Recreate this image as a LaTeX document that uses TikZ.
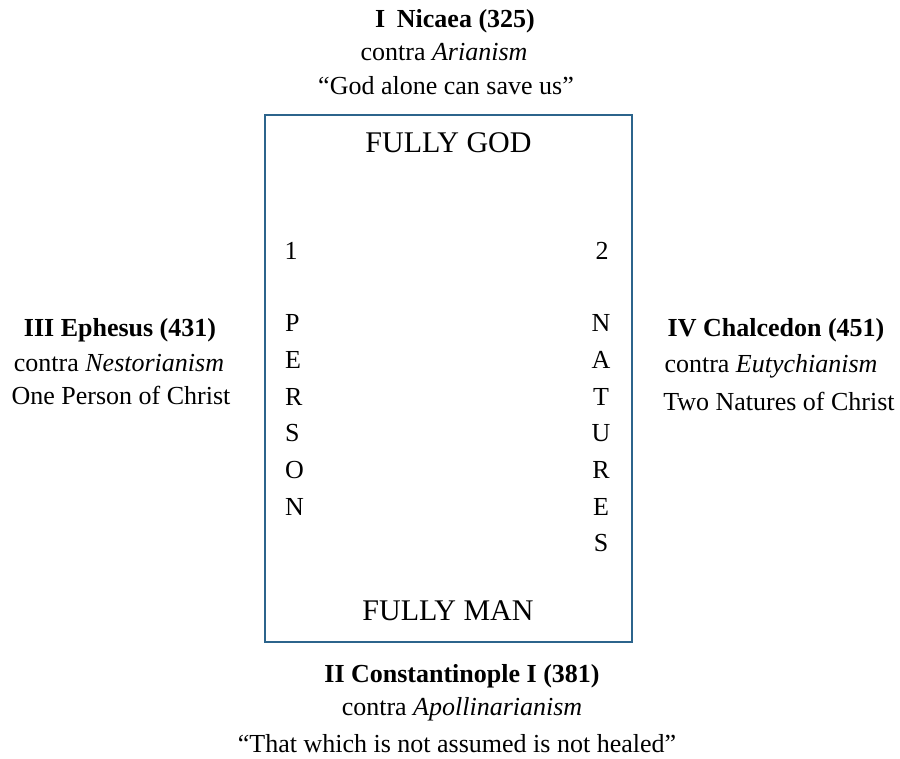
\documentclass[tikz,border=0pt]{standalone}
\usepackage{fontspec}
\setmainfont{Liberation Serif}
\definecolor{boxblue}{RGB}{44,100,140}
\tikzset{
  txt/.style={inner sep=0pt, anchor=base, font=\fontsize{26}{30}\selectfont},
  big/.style={inner sep=0pt, anchor=base, font=\fontsize{30}{34}\selectfont},
  letter/.style={inner sep=0pt, font=\fontsize{26}{30}\selectfont},
  frame/.style={draw=boxblue, line width=2pt}
}
\begin{document}
\begin{tikzpicture}[x=1pt,y=-1pt]
\useasboundingbox (0,0) rectangle (900,759);
% central box
\draw[frame] (265,115) rectangle (632,642);
\coordinate (boxc) at (448.5,378);
\node[big] (god) at (448.5,153) {FULLY GOD};
\node[big] (man) at (448,620) {FULLY MAN};
\node[letter, anchor=base] (one) at (291,260) {1};
\node[letter, anchor=base] (two) at (602,260) {2};
\foreach \l [count=\i from 0] in {P,E,R,S,O,N}
  \node[letter, anchor=base west] (per\i) at (285,332+36.6*\i) {\l};
\foreach \l [count=\i from 0] in {N,A,T,U,R,E,S}
  \node[letter, anchor=base] (nat\i) at (601,332+36.6*\i) {\l};
% top: Nicaea
\node[txt] (nic1) at (455,28) {\textbf{I\hspace{0.45em}Nicaea (325)}};
\node[txt] (nic2) at (444,61) {contra \textit{Arianism}};
\node[txt] (nic3) at (446,95) {“God alone can save us”};
% left: Ephesus
\node[txt] (eph1) at (120,337) {\textbf{III Ephesus (431)}};
\node[txt] (eph2) at (119,371) {contra \textit{Nestorianism}};
\node[txt] (eph3) at (121,405) {One Person of Christ};
% right: Chalcedon
\node[txt] (cha1) at (776,337) {\textbf{IV Chalcedon (451)}};
\node[txt] (cha2) at (771,373) {contra \textit{Eutychianism}};
\node[txt] (cha3) at (779,410) {Two Natures of Christ};
% bottom: Constantinople
\node[txt] (con1) at (462,682) {\textbf{II Constantinople I (381)}};
\node[txt] (con2) at (462,715) {contra \textit{Apollinarianism}};
\node[txt] (con3) at (457,752) {“That which is not assumed is not healed”};
\end{tikzpicture}
\end{document}
